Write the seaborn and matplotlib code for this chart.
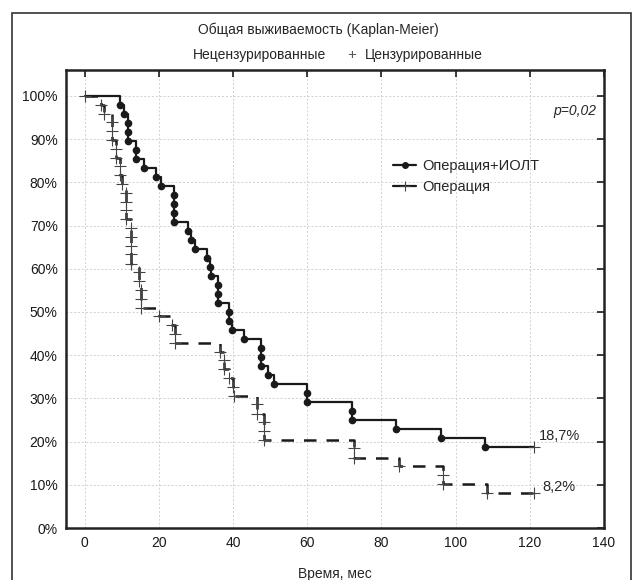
import matplotlib
matplotlib.use("Agg")
import matplotlib.pyplot as plt
from matplotlib.lines import Line2D
from matplotlib.patches import Rectangle
import seaborn as sns

# Kaplan-Meier curve points (time in months, survival in %)
surgery_iolt_t = [0, 9.5, 10.7, 11.6, 11.6, 11.6, 14, 14, 16, 19.3, 20.5,
                  24, 24, 24, 24, 28, 28.6, 29.7, 33, 33.8, 34.2, 36, 36, 36,
                  39, 39, 39.7, 43, 47.5, 47.5, 47.5, 49.5, 51, 60, 60, 72, 72,
                  84, 96, 108, 121]
surgery_iolt_s = [100, 97.9, 95.8, 93.8, 91.7, 89.6, 87.5, 85.4, 83.3, 81.3,
                  79.2, 77.1, 75.0, 72.9, 70.8, 68.8, 66.7, 64.6, 62.5, 60.4,
                  58.3, 56.3, 54.2, 52.1, 50.0, 47.9, 45.8, 43.8, 41.7, 39.6,
                  37.5, 35.4, 33.3, 31.3, 29.2, 27.1, 25.0, 22.9, 20.8, 18.8,
                  18.8]

surgery_t = [0, 4.3, 5.2, 7.5, 7.5, 7.5, 8.4, 8.4, 9.5, 9.5, 10.2,
             11.3, 11.3, 11.3, 11.3, 12.4, 12.4, 12.4, 12.4, 12.4, 14.6, 14.6,
             15.3, 15.3, 15.3, 20, 23.5, 24.5, 24.5, 36.5, 37.6, 37.6, 38.8,
             40.1, 40.3, 46.6, 46.6, 48.4, 48.4, 48.4, 72.6, 72.6, 84.8,
             96.7, 96.7, 108.6, 121]
surgery_s = [100, 98.0, 95.9, 93.9, 91.8, 89.8, 87.8, 85.7, 83.7, 81.6, 79.6,
             77.6, 75.5, 73.5, 71.4, 69.4, 67.3, 65.3, 63.3, 61.2, 59.2, 57.1,
             55.1, 53.1, 51.0, 49.0, 46.9, 44.9, 42.9, 40.8, 38.8, 36.7, 34.7,
             32.7, 30.6, 28.6, 26.5, 24.5, 22.4, 20.4, 18.4, 16.3, 14.3,
             12.2, 10.2, 8.2, 8.2]

group_names = ["Операция+ИОЛТ", "Операция"]
end_labels = ["18,7%", "8,2%"]
x_ticks = [0, 20, 40, 60, 80, 100, 120, 140]
y_ticks = [0, 10, 20, 30, 40, 50, 60, 70, 80, 90, 100]

sns.set_style("white")
plt.rcParams["font.family"] = ["Liberation Sans", "DejaVu Sans"]
plt.rcParams["font.size"] = 10

fig = plt.figure(figsize=(6.36, 5.8), dpi=100)
ax = fig.add_axes([66 / 636, 1 - 528 / 580, 538 / 636, 458 / 580])

# outer frame of the whole figure (cut at the bottom like the original)
fig.patches.append(Rectangle((12 / 636, -0.05), 619 / 636, 567 / 580 + 0.05,
                             transform=fig.transFigure, fill=False,
                             lw=1.2, ec="#333333"))

# step curves
sns.lineplot(x=surgery_iolt_t, y=surgery_iolt_s, estimator=None, sort=False,
             drawstyle="steps-post", color="#1a1a1a", lw=1.6, ax=ax)
sns.lineplot(x=surgery_t, y=surgery_s, estimator=None, sort=False,
             drawstyle="steps-post", color="#1a1a1a", lw=1.8,
             linestyle=(0, (5, 4)), ax=ax)

# markers: dots for events of group 1, plus for group 2 and censored ends
ax.plot(surgery_iolt_t[1:-1], surgery_iolt_s[1:-1], ls="none", marker="o",
        ms=4.5, color="#1a1a1a")
ax.plot(surgery_iolt_t[-1:], surgery_iolt_s[-1:], ls="none", marker="+",
        ms=9, mew=0.8, color="#444444")
ax.plot(surgery_t, surgery_s, ls="none", marker="+", ms=9, mew=0.8,
        color="#444444")

ax.set_xlim(-5, 140)
ax.set_ylim(0, 106)
ax.set_xticks(x_ticks)
ax.set_yticks(y_ticks)
ax.set_yticklabels([f"{v}%" for v in y_ticks])
ax.grid(True, color="#d0d0d0", ls=(0, (2, 2)), lw=0.7)
ax.tick_params(direction="in", length=5, width=1.2, top=True, right=True,
               labelsize=10, colors="#1a1a1a", pad=6)
for sp in ax.spines.values():
    sp.set_linewidth(1.8)
    sp.set_color("#222222")
ax.set_xlabel("")
ax.set_ylabel("")

# end-of-curve labels and p-value
ax.text(122.5, 21.2, end_labels[0], ha="left", va="center", fontsize=10.5)
ax.text(123.5, 9.6, end_labels[1], ha="left", va="center", fontsize=10.5)
ax.text(138, 96.5, "p=0,02", ha="right", va="center", style="italic",
        fontsize=10)

handles = [
    Line2D([], [], color="#1a1a1a", lw=1.6, marker="o", ms=4),
    Line2D([], [], color="#1a1a1a", lw=1.6, marker="+", ms=7, mew=0.8,
           mec="#444444"),
]
ax.legend(handles, group_names, loc="upper left",
          bbox_to_anchor=(0.608, 0.805), frameon=False, borderaxespad=0,
          borderpad=0, handlelength=1.6, handletextpad=0.4,
          labelspacing=0.45, fontsize=10.5)

# header texts
fig.text(318 / 636, 1 - 30 / 580, "Общая выживаемость (Kaplan-Meier)",
         ha="center", va="center", fontsize=10)
fig.text(326 / 636, 1 - 55 / 580, "Нецензурированные", ha="right",
         va="center", fontsize=10)
fig.text(352 / 636, 1 - 55 / 580, "+", ha="center", va="center",
         fontsize=11, color="#555555")
fig.text(365 / 636, 1 - 55 / 580, "Цензурированные", ha="left",
         va="center", fontsize=10)
fig.text(335 / 636, 1 - 574 / 580, "Время, мес", ha="center", va="center",
         fontsize=10)

fig.savefig("out.png", dpi=100)
